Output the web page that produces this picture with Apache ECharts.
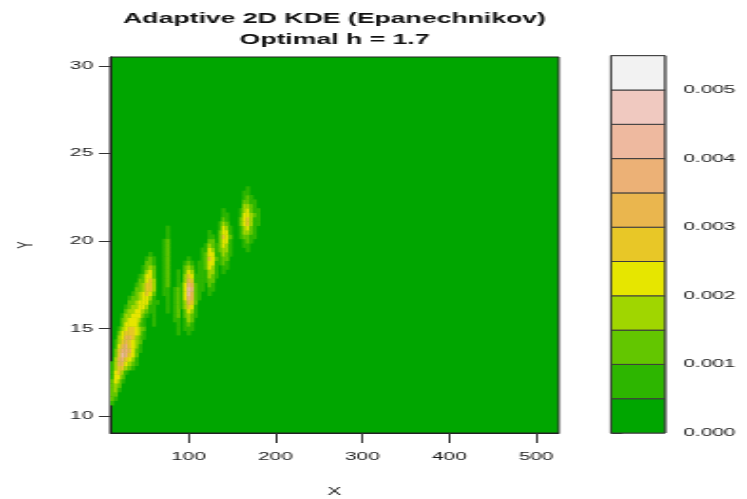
<!DOCTYPE html>
<html><head><meta charset="utf-8">
<script src="https://cdn.jsdelivr.net/npm/echarts@6/dist/echarts.min.js"></script>
<style>
html,body{margin:0;padding:0;background:#fff;overflow:hidden}
#wrap{width:747px;height:499px;overflow:hidden;position:relative}
#main{width:393px;height:499px;transform:scaleX(1.90076);transform-origin:0 0}
</style>
</head><body><div id="wrap"><div id="main"></div></div>
<script>
// ---- data ----
const titleText = 'Adaptive 2D KDE (Epanechnikov)\nOptimal h = 1.7';
const xName = 'X';
const yName = 'Y';
const xRange = [10, 526];
const yRange = [9.03, 30.51];
const xTicks = [100, 200, 300, 400, 500];
const yTicks = [10, 15, 20, 25, 30];
const keyTicks = [0, 0.001, 0.002, 0.003, 0.004, 0.005];
const keyTickLabels = ['0.000', '0.001', '0.002', '0.003', '0.004', '0.005'];
const levelBreaks = [0, 0.0005, 0.001, 0.0015, 0.002, 0.0025, 0.003, 0.0035, 0.004, 0.0045, 0.005, 0.0055];
const bandColors = ['#00A600', '#2DB600', '#63C600', '#A0D600', '#E6E600', '#E8C727', '#EAB64E', '#ECB176', '#EEB99F', '#F0C9C0', '#F2F2F2'];
const levelValues = [0.00025, 0.00075, 0.00125, 0.00175, 0.00225, 0.00275, 0.00325, 0.00375, 0.00425, 0.00475, 0.00525];
// cell centres of the density grid (x in X units, y in Y units)
const cellX = [12,16,20,24,28,32,36,40,44,48,52,56,60,64,68,72,76,80,84,88,92,96,100,104,108,112,116,120,124,128,132,136,140,144,148,152,156,160,164,168,172,176,180,184,188];
const cellY = [10.5,10.75,11,11.25,11.5,11.75,12,12.25,12.5,12.75,13,13.25,13.5,13.75,14,14.25,14.5,14.75,15,15.25,15.5,15.75,16,16.25,16.5,16.75,17,17.25,17.5,17.75,18,18.25,18.5,18.75,19,19.25,19.5,19.75,20,20.25,20.5,20.75,21,21.25,21.5,21.75,22,22.25,22.5,22.75,23];
// density band (0..10) of each cell, one row per cellY value, one digit per cellX value
const cellLevels = [
'00000 00000 00000 00000 00000 00000 00000 00000 00000',
'10000 00000 00000 00000 00000 00000 00000 00000 00000',
'21000 00000 00000 00000 00000 00000 00000 00000 00000',
'22000 00000 00000 00000 00000 00000 00000 00000 00000',
'23100 00000 00000 00000 00000 00000 00000 00000 00000',
'23200 00000 00000 00000 00000 00000 00000 00000 00000',
'24310 00000 00000 00000 00000 00000 00000 00000 00000',
'14420 00000 00000 00000 00000 00000 00000 00000 00000',
'14531 00000 00000 00000 00000 00000 00000 00000 00000',
'13553 21000 00000 00000 00000 00000 00000 00000 00000',
'13664 32100 00000 00000 00000 00000 00000 00000 00000',
'03675 43100 00000 00000 00000 00000 00000 00000 00000',
'02587 54200 00000 00000 00000 00000 00000 00000 00000',
'02577 64210 00000 00000 00000 00000 00000 00000 00000',
'01467 54310 00000 00000 00000 00000 00000 00000 00000',
'01356 54320 00000 00000 00000 00000 00000 00000 00000',
'00346 65321 00000 00000 00000 00000 00000 00000 00000',
'00245 55431 00000 00001 00100 00000 00000 00000 00000',
'00134 55432 00000 00001 01110 00000 00000 00000 00000',
'00024 44421 00100 00001 01210 00000 00000 00000 00000',
'00023 44431 00100 00011 01320 00000 00000 00000 00000',
'00013 34442 10100 00012 02321 00000 00000 00000 00000',
'00002 33443 21100 01012 02431 00000 00000 00000 00000',
'00001 23344 31100 01012 13541 00000 00000 00000 00000',
'00000 22344 42110 01012 13652 00000 00000 00000 00000',
'00000 12234 43100 01012 14762 10000 00000 00000 00000',
'00000 01234 54200 11012 14862 10010 00000 00000 00000',
'00000 00223 55300 11012 14872 11011 00000 00000 00000',
'00000 00123 55300 12001 14762 11021 00000 00000 00000',
'00000 00022 45300 12001 03651 11122 00000 00000 00000',
'00000 00012 44200 12001 03541 11132 10000 00000 00000',
'00000 00001 34200 12001 02430 11133 10100 00000 00000',
'00000 00001 23200 12000 02320 11243 10110 00000 00000',
'00000 00000 22100 12000 01210 11244 11210 00000 00000',
'00000 00000 12100 12000 00100 01254 21220 00000 00000',
'00000 00000 01000 12000 00000 01244 11321 00000 00000',
'00000 00000 00000 12000 00000 01143 12331 00001 00000',
'00000 00000 00000 12000 00000 00132 12431 00011 00000',
'00000 00000 00000 12000 00000 00022 02441 00012 10000',
'00000 00000 00000 01000 00000 00011 02542 00122 11000',
'00000 00000 00000 01000 00000 00010 02441 00133 21000',
'00000 00000 00000 01000 00000 00000 01431 00134 21000',
'00000 00000 00000 00000 00000 00000 01320 00245 31100',
'00000 00000 00000 00000 00000 00000 00210 00245 31100',
'00000 00000 00000 00000 00000 00000 00110 00144 32100',
'00000 00000 00000 00000 00000 00000 00100 00134 21100',
'00000 00000 00000 00000 00000 00000 00000 00033 21000',
'00000 00000 00000 00000 00000 00000 00000 00022 11000',
'00000 00000 00000 00000 00000 00000 00000 00012 10000',
'00000 00000 00000 00000 00000 00000 00000 00011 00000',
'00000 00000 00000 00000 00000 00000 00000 00001 00000'
];

// ---- build series data from the arrays ----
const cells = [];
cellLevels.forEach(function (row, j) {
  const digits = row.replace(/ /g, '');
  for (let i = 0; i < digits.length; i++) {
    const lv = +digits[i];
    if (lv > 0) cells.push([cellX[i], cellY[j], levelValues[lv]]);
  }
});
const halfDX = (cellX[1] - cellX[0]) / 2;
const halfDY = (cellY[1] - cellY[0]) / 2;
const keyBands = [];
for (let k = 0; k < bandColors.length; k++) keyBands.push([levelBreaks[k], levelBreaks[k + 1], k]);
const pieces = [];
for (let k = 0; k < bandColors.length; k++) pieces.push({ gte: levelBreaks[k], lt: levelBreaks[k + 1], color: bandColors[k] });

const FONT = 'Liberation Sans, Arial, Helvetica, sans-serif';
const TXT = '#1a1a1a';

const chart = echarts.init(document.getElementById('main'), null, { renderer: 'canvas' });
chart.setOption({
  backgroundColor: '#ffffff',
  animation: false,
  title: {
    text: titleText,
    left: 176, top: 9, padding: 0, textAlign: 'center',
    textStyle: { fontFamily: FONT, fontSize: 14, fontWeight: 'bold', color: '#111', lineHeight: 20.5 }
  },
  grid: [
    { left: 58, right: 99.06, top: 57, bottom: 66, containLabel: false, outerBoundsMode: 'none', show: true, backgroundColor: bandColors[0], borderColor: '#222', borderWidth: 1 },
    { left: 321.45, right: 43.14, top: 55.7, bottom: 66, containLabel: false, outerBoundsMode: 'none', show: true, backgroundColor: 'transparent', borderColor: '#222', borderWidth: 1 }
  ],
  xAxis: [
    {
      gridIndex: 0, type: 'value', min: xRange[0], max: xRange[1],
      name: xName, nameLocation: 'middle', nameGap: 53,
      nameTextStyle: { fontFamily: FONT, fontSize: 11, color: TXT },
      axisLine: { show: true, lineStyle: { color: '#222', width: 1 } },
      axisTick: { show: true, length: 10, customValues: xTicks, lineStyle: { color: '#333' } },
      axisLabel: { customValues: xTicks, margin: 18, fontFamily: FONT, fontSize: 11, color: TXT },
      splitLine: { show: false }
    },
    {
      gridIndex: 1, type: 'value', min: 0, max: 1, show: false
    }
  ],
  yAxis: [
    {
      gridIndex: 0, type: 'value', min: yRange[0], max: yRange[1],
      name: yName, nameLocation: 'middle', nameGap: 39,
      nameTextStyle: { fontFamily: FONT, fontSize: 11, color: TXT },
      axisLine: { show: true, lineStyle: { color: '#222', width: 1 } },
      axisTick: { show: true, length: 6, customValues: yTicks, lineStyle: { color: '#333' } },
      axisLabel: { customValues: yTicks, margin: 9, fontFamily: FONT, fontSize: 11, color: TXT },
      splitLine: { show: false }
    },
    {
      gridIndex: 1, type: 'value', position: 'right', min: levelBreaks[0], max: levelBreaks[levelBreaks.length - 1],
      axisLine: { show: false },
      axisTick: { show: true, length: 6, customValues: keyTicks, lineStyle: { color: '#333' } },
      axisLabel: {
        customValues: keyTicks, margin: 9.6, fontFamily: FONT, fontSize: 11, color: TXT,
        formatter: function (v) { const i = keyTicks.findIndex(function (t) { return Math.abs(t - v) < 1e-9; }); return i >= 0 ? keyTickLabels[i] : ''; }
      },
      splitLine: { show: false }
    }
  ],
  visualMap: {
    type: 'piecewise', show: false, seriesIndex: 0, dimension: 2, pieces: pieces
  },
  series: [
    {
      type: 'custom', name: 'density', xAxisIndex: 0, yAxisIndex: 0, clip: true,
      data: cells,
      renderItem: function (params, api) {
        const x = api.value(0), y = api.value(1);
        const p0 = api.coord([x - halfDX, y + halfDY]);
        const p1 = api.coord([x + halfDX, y - halfDY]);
        return { type: 'rect', shape: { x: p0[0], y: p0[1], width: p1[0] - p0[0] + 0.35, height: p1[1] - p0[1] + 0.35 }, style: { fill: api.visual('color') } };
      }
    },
    {
      type: 'custom', name: 'key', xAxisIndex: 1, yAxisIndex: 1,
      data: keyBands,
      renderItem: function (params, api) {
        const lo = api.value(0), hi = api.value(1), k = api.value(2);
        const p0 = api.coord([0, hi]);
        const p1 = api.coord([1, lo]);
        return { type: 'rect', shape: { x: p0[0], y: p0[1], width: p1[0] - p0[0], height: p1[1] - p0[1] }, style: { fill: bandColors[k], stroke: '#3c3c3c', lineWidth: 1 } };
      }
    }
  ]
});
</script>
</body></html>
